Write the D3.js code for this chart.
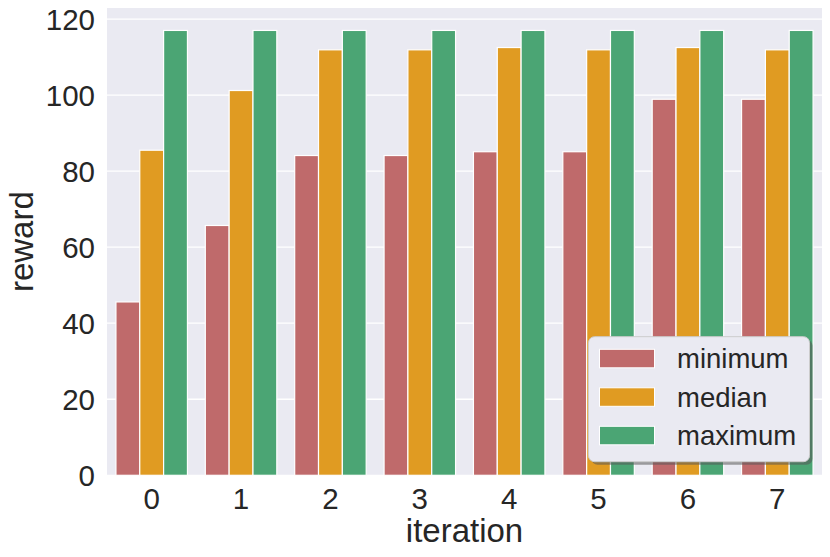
<!DOCTYPE html>
<html><head><meta charset="utf-8">
<script src="https://cdn.jsdelivr.net/npm/d3@7"></script>
<style>body{margin:0;background:#fff}svg{display:block}text{font-family:"Liberation Sans",Arial,sans-serif;fill:#262626}</style>
</head><body><svg id="c" width="830" height="557"></svg>
<script>
const categories = ["0","1","2","3","4","5","6","7"];
const series = ["minimum","median","maximum"];
const minimum = [45.6, 65.7, 84.1, 84.1, 85.1, 85.1, 98.9, 98.9];
const median  = [85.5, 101.2, 111.9, 111.9, 112.5, 111.9, 112.5, 111.9];
const maximum = [117.0, 117.0, 117.0, 117.0, 117.0, 117.0, 117.0, 117.0];
const yTicks = [0, 20, 40, 60, 80, 100, 120];
const colors = ["#bf6a6b", "#e09b22", "#4ba574"];
const values = {minimum, median, maximum};

const svg = d3.select("#c");
const L = 107, R = 822, T = 8, B = 475.3;
const x = d3.scaleBand().domain(categories).range([L, R]).paddingInner(0.2).paddingOuter(0.1);
const xs = d3.scaleBand().domain(series).range([0, x.bandwidth()]);
const y = d3.scaleLinear().domain([0, 122.9]).range([B, T]);
const color = d3.scaleOrdinal().domain(series).range(colors);

svg.append("rect").attr("x", L).attr("y", T).attr("width", R - L).attr("height", B - T).attr("fill", "#eaeaf2");

// grid
svg.append("g").selectAll("line").data(yTicks).join("line")
  .attr("x1", L).attr("x2", R).attr("y1", d => y(d)).attr("y2", d => y(d))
  .attr("stroke", "#fff").attr("stroke-width", 1.3);

// bars
const rows = [];
categories.forEach((c, i) => series.forEach(s => rows.push({c, s, v: values[s][i]})));
svg.append("g").selectAll("rect").data(rows).join("rect")
  .attr("x", d => x(d.c) + xs(d.s))
  .attr("width", xs.bandwidth())
  .attr("y", d => y(d.v))
  .attr("height", d => y(0) - y(d.v))
  .attr("fill", d => color(d.s))
  .attr("stroke", "#fff").attr("stroke-width", 1.2);

// axes
const yAxis = d3.axisLeft(y).tickValues(yTicks).tickSize(0).tickPadding(12);
const gy = svg.append("g").attr("transform", `translate(${L},0)`).call(yAxis);
gy.select(".domain").remove();
gy.selectAll("text").attr("font-size", 29.5).attr("fill", "#262626").attr("dy", "0.35em").attr("font-family", "Liberation Sans, Arial, sans-serif");

const xAxis = d3.axisBottom(x).tickSize(0).tickPadding(12);
const gx = svg.append("g").attr("transform", `translate(0,${B})`).call(xAxis);
gx.select(".domain").remove();
gx.selectAll("text").attr("font-size", 29.5).attr("fill", "#262626").attr("dy", "0.72em").attr("font-family", "Liberation Sans, Arial, sans-serif");

svg.append("text").attr("x", (L + R) / 2).attr("y", 541.5).attr("text-anchor", "middle")
  .attr("font-size", 33).text("iteration");
svg.append("text").attr("transform", `translate(33,${(T + B) / 2}) rotate(-90)`).attr("text-anchor", "middle")
  .attr("font-size", 33).text("reward");

// legend
const lx = 588.5, ly = 336.7, lw = 221, lh = 125;
const lg = svg.append("g");
lg.append("rect").attr("x", lx + 3).attr("y", ly + 3).attr("width", lw).attr("height", lh).attr("rx", 6)
  .attr("fill", "#555").attr("opacity", 0.55);
lg.append("rect").attr("x", lx).attr("y", ly).attr("width", lw).attr("height", lh).attr("rx", 6)
  .attr("fill", "#eaeaf2").attr("stroke", "#cccccc").attr("stroke-width", 1);
const items = lg.selectAll("g.item").data(series).join("g").attr("class", "item")
  .attr("transform", (d, i) => `translate(${lx + 11},${ly + 12.6 + i * 38.5})`);
items.append("rect").attr("width", 55).attr("height", 18.5).attr("fill", d => color(d))
  .attr("stroke", "#fff").attr("stroke-width", 1);
items.append("text").attr("x", 77.5).attr("y", 9.5).attr("dy", "0.35em").attr("font-size", 27.5).text(d => d);
</script></body></html>
